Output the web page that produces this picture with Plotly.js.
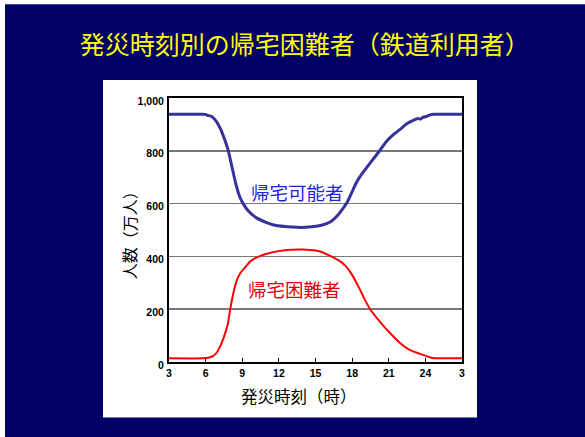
<!DOCTYPE html>
<html>
<head>
<meta charset="utf-8">
<script src="https://cdn.plot.ly/plotly-3.0.1.min.js"></script>
<style>
  html, body { margin: 0; padding: 0; background: #ffffff; }
  #chart { width: 585px; height: 437px; }
</style>
</head>
<body>
<div id="chart"></div>
<script>
// Hour of the disaster (3 = 3:00, 27 = 3:00 next day)
const returnableHours = [3, 4, 5, 6, 6.1, 6.5, 6.8, 7.2, 7.5, 7.86, 8.2, 8.5, 8.8, 9.1, 9.5, 10.2, 11, 11.5, 12.5, 13.5, 14.5, 15.5, 16.2, 16.8, 17.3, 17.6, 18, 18.3, 18.64, 19, 19.5, 20.3, 20.8, 21.4, 21.9, 22.5, 23, 23.4, 23.6, 23.8, 24.1, 24.4, 24.7, 27];
// People able to return home (10k persons)
const returnableValues = [938, 938, 938, 938, 935, 930, 916, 885, 850, 800, 730, 670, 625, 598, 572, 545, 528, 520, 513, 510, 511, 518, 530, 555, 585, 605, 645, 675, 702, 725, 755, 803, 835, 862, 880, 903, 915, 922, 920, 927, 930, 936, 938, 938];

const strandedHours = [3, 5.8, 6.2, 6.6, 6.9, 7.2, 7.5, 7.8, 8.0, 8.2, 8.4, 8.6, 8.85, 9.3, 9.7, 10.2, 11, 12, 13, 14, 15, 15.6, 16.2, 17, 17.5, 18, 18.6, 19, 19.5, 20, 20.6, 21.2, 21.9, 22.5, 23.3, 23.8, 24.1, 24.6, 27];
// People stranded (10k persons)
const strandedValues = [14, 14, 16, 22, 35, 60, 95, 140, 195, 245, 285, 315, 337, 362, 383, 396, 410, 420, 425, 426, 422, 415, 402, 382, 362, 330, 278, 240, 198, 168, 135, 105, 73, 52, 35, 27, 22, 15, 14];

const xTickVals = [3, 6, 9, 12, 15, 18, 21, 24, 27];
const xTickText = ['3', '6', '9', '12', '15', '18', '21', '24', '3'];
const yTickVals = [0, 200, 400, 600, 800, 1000];

const cjk = '"Noto Sans CJK JP", "Noto Sans", sans-serif';
const tickFont = { family: '"Liberation Sans", Arial, sans-serif', size: 10.5, color: '#000000', weight: 'bold' };

const traces = [
  {
    x: returnableHours, y: returnableValues, type: 'scatter', mode: 'lines',
    line: { color: '#333399', width: 3, shape: 'spline', smoothing: 0.5 },
    hoverinfo: 'skip'
  },
  {
    x: strandedHours, y: strandedValues, type: 'scatter', mode: 'lines',
    line: { color: '#FF0000', width: 2, shape: 'spline', smoothing: 0.5 },
    hoverinfo: 'skip'
  }
];

const layout = {
  width: 585, height: 437,
  margin: { l: 169, r: 123, t: 98, b: 75, pad: 0 },
  paper_bgcolor: '#000066',
  plot_bgcolor: '#FFFFFF',
  showlegend: false,
  title: {
    text: '発災時刻別の帰宅困難者（鉄道利用者）',
    font: { family: cjk, size: 25, color: '#FFFF00' },
    x: 0.521, xref: 'container', xanchor: 'center',
    y: 0.897, yref: 'container', yanchor: 'middle'
  },
  xaxis: {
    range: [3, 27], tickvals: xTickVals, ticktext: xTickText,
    ticks: 'inside', ticklen: 4, tickwidth: 1, tickcolor: '#000000',
    showline: true, linecolor: '#000000', linewidth: 2, mirror: true,
    showgrid: false, zeroline: false, tickfont: tickFont, fixedrange: true
  },
  yaxis: {
    range: [0, 1000], tickvals: yTickVals, tickformat: ',',
    ticks: '', showgrid: true, gridcolor: '#777777', gridwidth: 1.5,
    showline: true, linecolor: '#000000', linewidth: 2, mirror: true,
    zeroline: false, tickfont: tickFont, ticklabelshift: 3, ticklabelstandoff: 1,
    fixedrange: true
  },
  shapes: [
    // white slide panel behind the chart
    { type: 'rect', xref: 'paper', yref: 'paper', x0: -0.2253, x1: 1.0512, y0: -0.2098, y1: 1.0681,
      fillcolor: '#FFFFFF', line: { width: 0 }, layer: 'below' },
    // thin light edges along the left and top of the slide
    { type: 'rect', xref: 'paper', yref: 'paper', x0: -0.58, x1: -0.5597, y0: -0.29, y1: 1.38,
      fillcolor: '#FFFFFF', line: { width: 0 }, layer: 'below' },
    { type: 'rect', xref: 'paper', yref: 'paper', x0: -0.58, x1: 1.43, y0: 1.3554, y1: 1.38,
      fillcolor: '#FFFFFF', line: { width: 0 }, layer: 'below' }
  ],
  annotations: [
    { text: '帰宅可能者', x: 13.5, y: 645, xref: 'x', yref: 'y', showarrow: false,
      font: { family: cjk, size: 18.5, color: '#2222DD' } },
    { text: '帰宅困難者', x: 13.3, y: 278, xref: 'x', yref: 'y', showarrow: false,
      font: { family: cjk, size: 18.5, color: '#E00010' } },
    { text: '発災時刻（時）', x: 0.4437, y: -0.1293, xref: 'paper', yref: 'paper', showarrow: false,
      xanchor: 'center', yanchor: 'middle', font: { family: cjk, size: 16.5, color: '#000000' } },
    { text: '人数（万人）', x: -0.1365, y: 0.4953, xref: 'paper', yref: 'paper', showarrow: false,
      textangle: -90, xanchor: 'center', yanchor: 'middle', font: { family: cjk, size: 16, color: '#000000' } }
  ]
};

Plotly.newPlot('chart', traces, layout, { displayModeBar: false, staticPlot: true });
</script>
</body>
</html>
